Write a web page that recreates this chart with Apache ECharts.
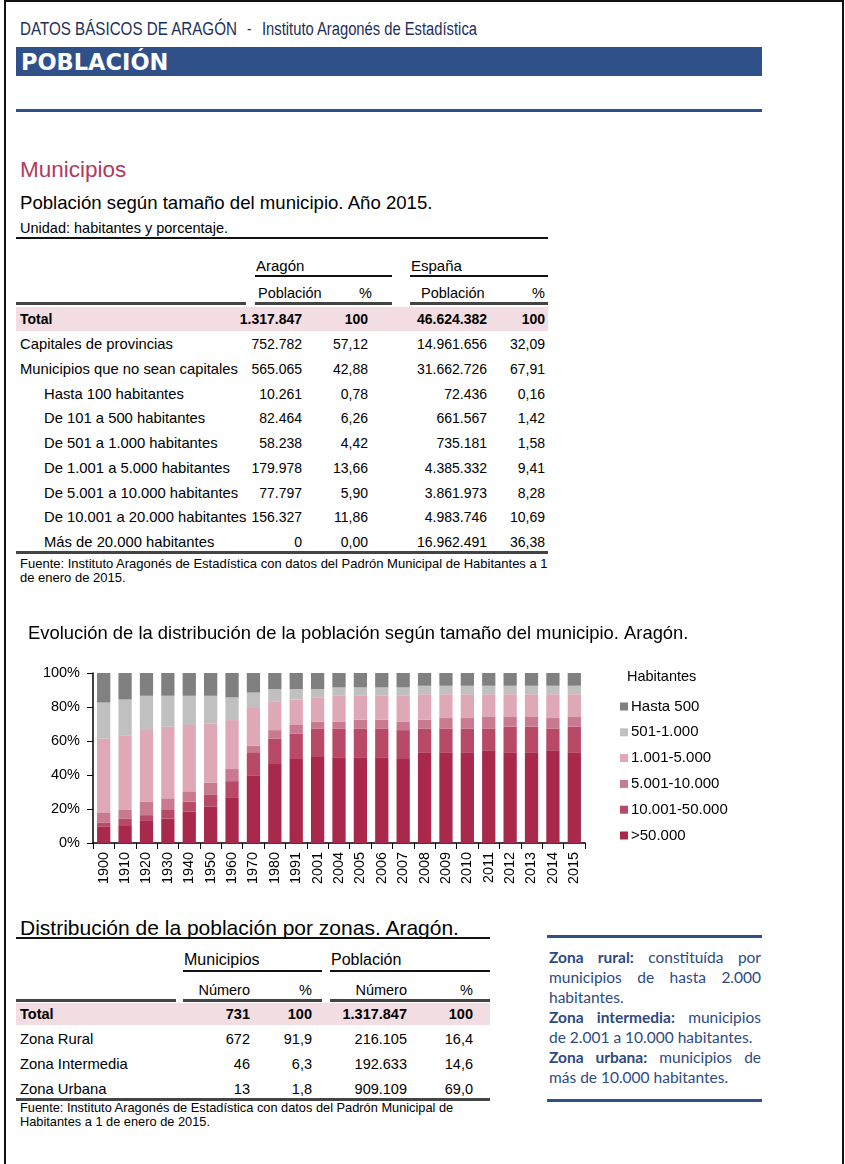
<!DOCTYPE html>
<html><head><meta charset="utf-8">
<script src="https://cdn.jsdelivr.net/npm/echarts@6/dist/echarts.min.js"></script>
<style>
html,body{margin:0;padding:0;background:#fff;}
#page{position:relative;width:845px;height:1164px;overflow:hidden;background:#fff;font-family:"Liberation Sans",Arial,sans-serif;}
#frame{position:absolute;left:4px;top:0;width:836px;height:1170px;border:2px solid #111;}
.t{position:absolute;white-space:nowrap;line-height:1;}
#chart{position:absolute;left:0;top:600px;width:845px;height:300px;}
#note{position:absolute;left:549px;top:947px;width:212px;color:#2e4a7f;font-family:Lato,"Open Sans",sans-serif;font-size:15.5px;line-height:20px;}
#note p{margin:0;text-align:justify;}
</style></head>
<body><div id="page"><div id="frame"></div><div id="chart"></div>
<div id="note">
<p><b>Zona rural:</b> constituída por municipios de hasta 2.000 habitantes.</p>
<p><b>Zona intermedia:</b> municipios de 2.001 a 10.000 habitantes.</p>
<p><b>Zona urbana:</b> municipios de más de 10.000 habitantes.</p>
</div>
</div>
<script>
// ---------- Data ----------
const years = ['1900','1910','1920','1930','1940','1950','1960','1970','1980','1991','2001','2004','2005','2006','2007','2008','2009','2010','2011','2012','2013','2014','2015'];
const seriesNames = ['>50.000','10.001-50.000','5.001-10.000','1.001-5.000','501-1.000','Hasta 500'];
const mas50000   = [9.5,10.5,13.4,14.4,18.4,21.3,26.5,39.5,46.4,49.4,50.6,50.4,50.4,50.4,49.4,53.4,53.4,53.4,54.5,53.4,53.4,54.5,53.4];
const de10001a50000 = [2.6,3.7,3.0,5.0,5.9,7.0,9.9,13.9,15.1,15.0,16.8,17.0,17.0,17.0,17.0,14.0,14.0,14.0,12.9,15.0,15.0,12.9,15.0];
const de5001a10000  = [5.9,5.2,7.9,6.9,6.1,7.1,7.1,3.9,4.9,5.0,3.9,4.1,5.1,5.1,5.1,5.1,6.1,6.1,7.1,6.1,6.1,6.1,6.1];
const de1001a5000   = [43.3,44.0,42.1,42.1,39.0,35.0,28.8,22.1,17.0,15.0,14.1,15.1,14.1,14.1,15.1,15.0,14.0,14.0,13.0,13.0,13.0,14.0,13.0];
const de501a1000    = [21.3,21.0,20.2,18.2,17.2,16.2,13.3,9.1,7.1,6.1,5.1,4.9,4.9,4.9,4.9,5.0,5.0,5.0,5.0,5.0,5.0,5.0,5.0];
const hasta500      = [17.4,15.6,13.4,13.4,13.4,13.4,14.4,11.5,9.5,9.5,9.5,8.5,8.5,8.5,8.5,7.5,7.5,7.5,7.5,7.5,7.5,7.5,7.5];

const t1Labels = ['Capitales de provincias','Municipios que no sean capitales','Hasta 100 habitantes','De 101 a 500 habitantes','De 501 a 1.000 habitantes','De 1.001 a 5.000 habitantes','De 5.001 a 10.000 habitantes','De 10.001 a 20.000 habitantes','Más de 20.000 habitantes'];
const t1Indent = [0,0,1,1,1,1,1,1,1];
const t1AragonPob = ['752.782','565.065','10.261','82.464','58.238','179.978','77.797','156.327','0'];
const t1AragonPct = ['57,12','42,88','0,78','6,26','4,42','13,66','5,90','11,86','0,00'];
const t1EspanaPob = ['14.961.656','31.662.726','72.436','661.567','735.181','4.385.332','3.861.973','4.983.746','16.962.491'];
const t1EspanaPct = ['32,09','67,91','0,16','1,42','1,58','9,41','8,28','10,69','36,38'];
const t1Total = ['Total','1.317.847','100','46.624.382','100'];

const t2Labels = ['Zona Rural','Zona Intermedia','Zona Urbana'];
const t2MunNum = ['672','46','13'];
const t2MunPct = ['91,9','6,3','1,8'];
const t2PobNum = ['216.105','192.633','909.109'];
const t2PobPct = ['16,4','14,6','69,0'];
const t2Total = ['Total','731','100','1.317.847','100'];

// ---------- helpers ----------
const page = document.getElementById('page');
const W = 845;
function hasFont(name){
  const c = document.createElement('canvas').getContext('2d');
  c.font = '40px monospace'; const a = c.measureText('abcdefghijklmnopWMi').width;
  c.font = '40px "'+name+'", monospace'; const b = c.measureText('abcdefghijklmnopWMi').width;
  return a !== b;
}
const NARROW_OK = hasFont('Liberation Sans Narrow');
function txt(x,y,s,o){
  o = o||{};
  const d = document.createElement('div'); d.className='t'; d.textContent = s;
  d.style.fontSize = (o.size||13)+'px';
  d.style.color = o.color||'#000';
  if (o.bold) d.style.fontWeight='bold';
  let sx = '';
  if (o.narrow){
    if (NARROW_OK) d.style.fontFamily='"Liberation Sans Narrow",sans-serif';
    else { d.style.fontFamily='"Liberation Sans",sans-serif'; sx=' scaleX(0.82)'; }
  } else if (o.family) d.style.fontFamily=o.family;
  if (o.align==='right'){ d.style.right=(W-x)+'px'; d.style.transformOrigin='right center'; }
  else { d.style.left=x+'px'; d.style.transformOrigin='left center'; }
  d.style.top = y+'px';
  d.style.transform = 'translateY(-50%)'+sx;
  page.appendChild(d); return d;
}
function rect(x1,x2,y1,h,color){
  const d=document.createElement('div'); d.style.position='absolute';
  d.style.left=x1+'px'; d.style.width=(x2-x1)+'px'; d.style.top=y1+'px'; d.style.height=h+'px'; d.style.background=color;
  page.insertBefore(d, page.firstChild.nextSibling); return d;
}

// ---------- header ----------
const NAVY = '#2f5089';
txt(20,29,'DATOS BÁSICOS DE ARAGÓN',{size:18.5,narrow:true,color:'#1d2f58'});
txt(247,29,'-',{size:16,narrow:true,color:'#1d2f58'});
txt(262,29,'Instituto Aragonés de Estadística',{size:18,narrow:true,color:'#1d2f58'});
rect(16,762,47,29,NAVY);
txt(21,62,'POBLACIÓN',{size:22.5,bold:true,color:'#fff',family:'"DejaVu Sans",sans-serif'});
rect(16,762,109,3,NAVY);

// ---------- table 1 ----------
const FS1 = 14.8, FN1 = 14;
txt(20,170,'Municipios',{size:22.5,color:'#b23a5c'});
txt(20,203,'Población según tamaño del municipio. Año 2015.',{size:18.6});
txt(20,228,'Unidad: habitantes y porcentaje.',{size:14.5});
rect(16,548,237,1.5,'#111');
txt(256,265,'Aragón',{size:15});
txt(411,265,'España',{size:15});
rect(255,392,275,1.5,'#111');
rect(410,548,275,1.5,'#111');
txt(258,293,'Población',{size:14.5});
txt(372,293,'%',{size:14.5,align:'right'});
txt(421,293,'Población',{size:14.5});
txt(545,293,'%',{size:14.5,align:'right'});
rect(16,246,302,2.5,'#444');
rect(255,392,302,2.5,'#444');
rect(410,548,302,2.5,'#444');
rect(16,548,307,24,'#f2dde3');
const c1 = [302,368,487,545];
txt(20,319,t1Total[0],{size:FN1,bold:true});
for (let k=0;k<4;k++) txt(c1[k],319,t1Total[k+1],{size:FN1,bold:true,align:'right'});
for (let i=0;i<t1Labels.length;i++){
  const y = 344 + i*24.75;
  txt(t1Indent[i]?44:20,y,t1Labels[i],{size:FS1});
  txt(c1[0],y,t1AragonPob[i],{size:FN1,align:'right'});
  txt(c1[1],y,t1AragonPct[i],{size:FN1,align:'right'});
  txt(c1[2],y,t1EspanaPob[i],{size:FN1,align:'right'});
  txt(c1[3],y,t1EspanaPct[i],{size:FN1,align:'right'});
}
rect(16,548,551,2.5,'#444');
txt(20,563,'Fuente: Instituto Aragonés de Estadística con datos del Padrón Municipal de Habitantes a 1',{size:13});
txt(20,577,'de enero de 2015.',{size:13});

// ---------- table 2 ----------
txt(20,927,'Distribución de la población por zonas. Aragón.',{size:21});
rect(16,490,937,1.5,'#111');
txt(184,960,'Municipios',{size:16});
txt(331,960,'Población',{size:16});
rect(183,322,970,1.5,'#111');
rect(330,490,970,1.5,'#111');
txt(250,990,'Número',{size:14.5,align:'right'});
txt(312,990,'%',{size:14.5,align:'right'});
txt(407,990,'Número',{size:14.5,align:'right'});
txt(473,990,'%',{size:14.5,align:'right'});
rect(16,176,999,2.5,'#444');
rect(183,322,999,2.5,'#444');
rect(330,490,999,2.5,'#444');
rect(16,490,1003,22,'#f2dde3');
const c2=[250,312,407,473];
txt(20,1014,t2Total[0],{size:14.5,bold:true});
for (let k=0;k<4;k++) txt(c2[k],1014,t2Total[k+1],{size:14.5,bold:true,align:'right'});
for (let i=0;i<t2Labels.length;i++){
  const y = 1039 + i*25;
  txt(20,y,t2Labels[i],{size:14.8});
  txt(c2[0],y,t2MunNum[i],{size:14.5,align:'right'});
  txt(c2[1],y,t2MunPct[i],{size:14.5,align:'right'});
  txt(c2[2],y,t2PobNum[i],{size:14.5,align:'right'});
  txt(c2[3],y,t2PobPct[i],{size:14.5,align:'right'});
}
rect(16,490,1098,2.5,'#444');
txt(20,1108,'Fuente: Instituto Aragonés de Estadística con datos del Padrón Municipal de',{size:12.8});
txt(20,1122,'Habitantes a 1 de enero de 2015.',{size:12.8});
rect(547,762,935,3,NAVY);
rect(547,762,1099,3,NAVY);

// ---------- chart ----------
const colors = ['#a8294b','#b84a68','#c97990','#dfa8b6','#c0c0c0','#808080'];
const values = [mas50000,de10001a50000,de5001a10000,de1001a5000,de501a1000,hasta500];
const chart = echarts.init(document.getElementById('chart'),null,{renderer:'canvas'});
chart.setOption({
  animation:false,
  textStyle:{fontFamily:'"Liberation Sans",Arial,sans-serif'},
  title:[
    {text:'Evolución de la distribución de la población según tamaño del municipio. Aragón.',left:23,top:20,
     textStyle:{fontSize:18.4,fontWeight:'normal',color:'#000'}},
    {text:'Habitantes',left:622,top:64,textStyle:{fontSize:14.5,fontWeight:'normal',color:'#000'}}
  ],
  grid:{left:93,top:73,width:492,height:170},
  legend:{orient:'vertical',left:615,top:94,itemWidth:8,itemHeight:8,itemGap:10.8,icon:'rect',
    data:seriesNames.slice().reverse(),
    textStyle:{fontSize:15,color:'#000',lineHeight:15,padding:[0,0,0,-2]}},
  xAxis:{type:'category',data:years,
    axisLine:{lineStyle:{color:'#000',width:1.5}},
    axisTick:{show:true,length:6,lineStyle:{color:'#000'}},
    axisLabel:{rotate:90,fontSize:14.4,color:'#000',margin:9,interval:0}},
  yAxis:{type:'value',min:0,max:100,interval:20,
    axisLine:{show:true,lineStyle:{color:'#000',width:1.5}},
    axisTick:{show:true,length:6,lineStyle:{color:'#000'}},
    splitLine:{show:false},
    axisLabel:{formatter:'{value}%',fontSize:14.5,color:'#000',margin:13}},
  series: seriesNames.map((n,i)=>({
    name:n,type:'bar',stack:'t',data:values[i],barWidth:'62%',
    itemStyle:{color:colors[i]}
  }))
});
</script></body></html>
